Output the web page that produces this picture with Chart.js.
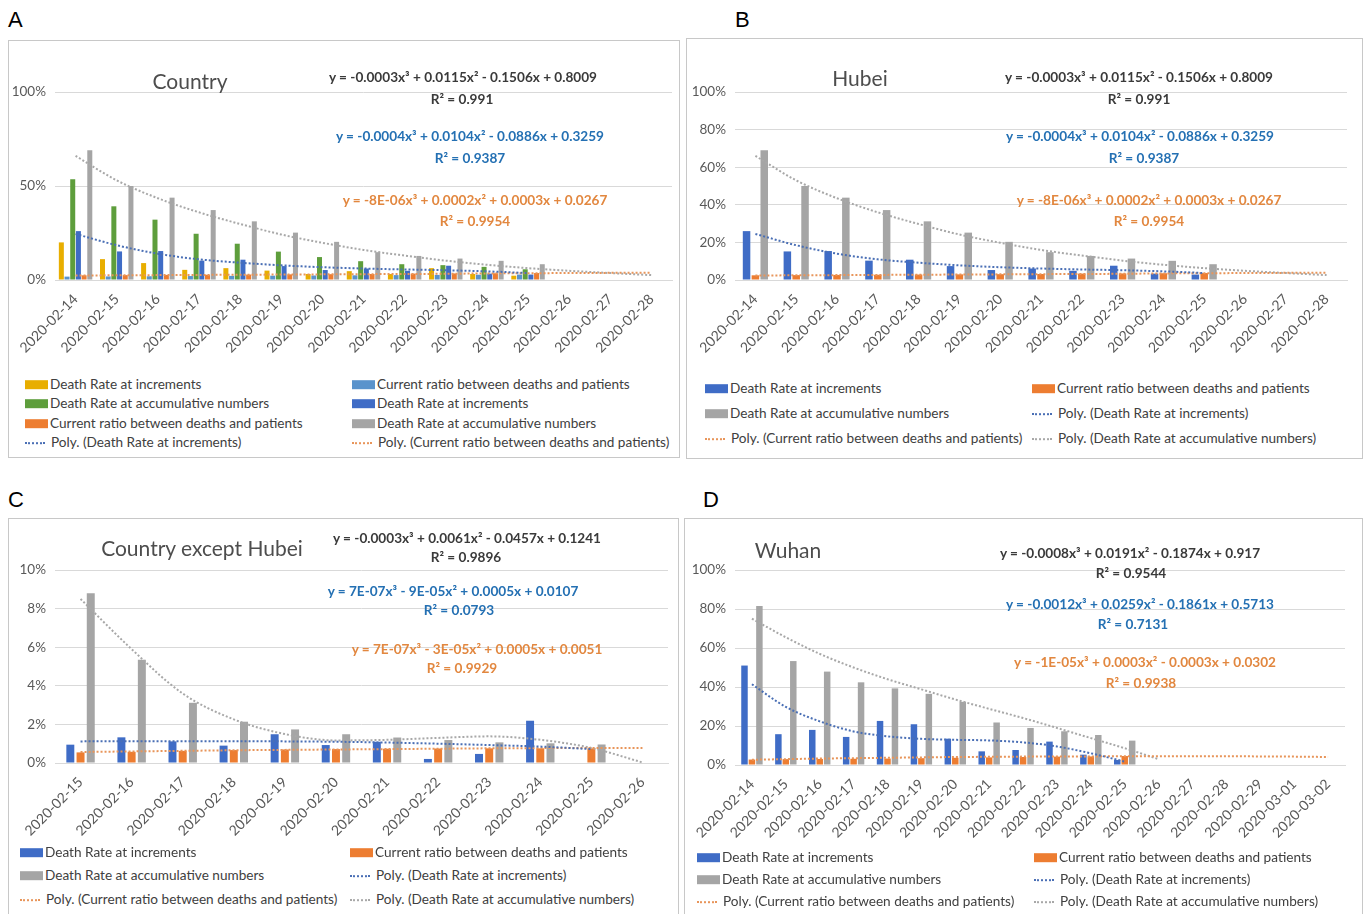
<!DOCTYPE html>
<html><head><meta charset="utf-8">
<script src="https://cdn.jsdelivr.net/npm/chart.js@4.4.0/dist/chart.umd.min.js"></script>
<style>
body{margin:0;background:#fff;font-family:Lato,sans-serif;}
#wrap{position:relative;width:1367px;height:914px;overflow:hidden;background:#fff}
.letter{position:absolute;font-family:'Liberation Sans',Arial,sans-serif;font-size:22px;color:#000;line-height:1}
.panel{position:absolute;border:1px solid #c8c8c8;box-sizing:border-box;background:#fff}
.panel canvas{position:absolute;left:0;top:0}
.title{position:absolute;font-size:21px;color:#4d4d4d;transform:translate(-50%,-50%);white-space:nowrap;line-height:1}
.eq{position:absolute;font-size:13.6px;font-weight:700;transform:translate(-50%,-50%);white-space:nowrap;line-height:1}
.lg{position:absolute;font-size:13.6px;color:#404040;white-space:nowrap;transform:translateY(-50%);display:flex;align-items:center;line-height:1}
.sw{display:inline-block;width:23px;height:9px;margin-right:2px}
.dl{display:inline-block;width:20px;height:0;border-top:2px dotted;margin-right:6px}
</style>
</head><body>
<div id="wrap"></div>
<script>
// ---------- categories ----------
const datesAB = ['2020-02-14','2020-02-15','2020-02-16','2020-02-17','2020-02-18','2020-02-19','2020-02-20','2020-02-21','2020-02-22','2020-02-23','2020-02-24','2020-02-25','2020-02-26','2020-02-27','2020-02-28'];
const datesC = ['2020-02-15','2020-02-16','2020-02-17','2020-02-18','2020-02-19','2020-02-20','2020-02-21','2020-02-22','2020-02-23','2020-02-24','2020-02-25','2020-02-26'];
const datesD = ['2020-02-14','2020-02-15','2020-02-16','2020-02-17','2020-02-18','2020-02-19','2020-02-20','2020-02-21','2020-02-22','2020-02-23','2020-02-24','2020-02-25','2020-02-26','2020-02-27','2020-02-28','2020-02-29','2020-03-01','2020-03-02'];

// ---------- tick values (percent) ----------
const yTicksA = [0, 50, 100];
const yTicksB = [0, 20, 40, 60, 80, 100];
const yTicksC = [0, 2, 4, 6, 8, 10];
const yTicksD = [0, 20, 40, 60, 80, 100];

// ---------- series (percent) ----------
// Country
const countryInc = [20, 11.1, 9, 5.4, 6.3, 5, 3.2, 4.7, 3.2, 6.3, 3.2, 2.3];
const countryCur = [1.8, 1.9, 2.0, 2.1, 2.2, 2.3, 2.4, 2.5, 2.6, 2.7, 2.8, 2.9];
const countryAcc = [53.6, 39.2, 32.1, 24.6, 19.3, 15.1, 12.2, 10, 8.4, 7.9, 7, 5.7];
// Hubei
const hubeiInc = [26, 15.2, 15.4, 10.3, 10.8, 7.4, 5.3, 6.1, 4.9, 7.6, 3.4, 2.9];
const hubeiCur = [2.5, 2.6, 2.7, 2.8, 2.9, 3.0, 3.1, 3.2, 3.4, 3.5, 3.6, 3.7];
const hubeiAcc = [69, 50, 43.8, 37.2, 31.2, 25.2, 20.3, 14.8, 12.8, 11.4, 10.2, 8.4];
const hubeiIncTrend = [24.5, 18.5, 14, 11, 9.2, 7.8, 6.8, 6.1, 5.6, 5.2, 4.6, 3.7, null, null, null];
const hubeiCurTrend = [2.4, 2.5, 2.6, 2.7, 2.8, 2.9, 3.0, 3.1, 3.2, 3.3, 3.5, 3.6, 3.7, 3.8, 3.9];
const hubeiAccTrend = [66, 53, 43.5, 36, 29.8, 24.2, 19.8, 16, 13, 10.3, 8.1, 6.3, 4.9, 3.7, 2.6];
// Country except Hubei
const exInc = [0.95, 1.33, 1.12, 0.9, 1.49, 0.93, 1.1, 0.21, 0.47, 2.19, null];
const exCur = [0.55, 0.58, 0.63, 0.67, 0.7, 0.72, 0.74, 0.75, 0.76, 0.76, 0.76];
const exAcc = [8.8, 5.35, 3.12, 2.14, 1.74, 1.49, 1.32, 1.19, 1.07, 1.02, 0.96];
const exIncTrend = [1.12, 1.13, 1.13, 1.13, 1.12, 1.1, 1.06, 1.0, 0.93, 0.85, 0.72, null];
const exCurTrend = [0.57, 0.6, 0.63, 0.66, 0.68, 0.7, 0.72, 0.74, 0.76, 0.77, 0.78, 0.78];
const exAccTrend = [8.5, 5.9, 3.6, 2.26, 1.5, 1.17, 1.2, 1.3, 1.38, 1.2, 0.78, 0.03];
// Wuhan
const wuhanInc = [51, 15.8, 18, 14.4, 22.6, 20.9, 13.5, 7, 7.7, 12, 5.3, 2.6];
const wuhanCur = [2.8, 3.0, 3.1, 3.2, 3.3, 3.5, 3.7, 3.9, 4.1, 4.3, 4.4, 4.6];
const wuhanAcc = [81.5, 53.3, 47.9, 42.4, 39.3, 36.5, 32.4, 21.8, 19, 17.3, 15.4, 12.5];
const wuhanIncTrend = [41.4, 29.8, 22.4, 17.2, 14.7, 13.4, 12.9, 12.6, 11.6, 9.5, 6, 1.7, null, null, null, null, null, null];
const wuhanCurTrend = [2.7, 3.0, 3.3, 3.5, 3.7, 3.9, 4.1, 4.2, 4.3, 4.4, 4.4, 4.5, 4.5, 4.5, 4.5, 4.4, 4.3, 4.1];
const wuhanAccTrend = [75, 65.5, 57, 50, 44, 38.8, 33.6, 28.8, 24.1, 19, 13.8, 8.6, 3.0, null, null, null, null, null];

// ---------- labels & styles ----------
const L_INC = 'Death Rate at increments';
const L_CUR = 'Current ratio between deaths and patients';
const L_ACC = 'Death Rate at accumulative numbers';
const C = {gold:'#E8AE00', lblue:'#5A93CC', green:'#5E9E3C', blue:'#3F6CC6', orange:'#ED7D31', gray:'#A5A5A5',
           tBlue:'#4A6FB5', tOrange:'#E8955A', tGray:'#A8A8A8'};
const EQC = {k:'#3a3a3a', b:'#2470B3', o:'#E2873F'};

const wrap = document.getElementById('wrap');
function el(tag, cls, parent, style, html){const e=document.createElement(tag); if(cls)e.className=cls; if(style)e.style.cssText=style; if(html!==undefined)e.innerHTML=html; parent.appendChild(e); return e;}

function bar(label, data, color){return {type:'bar', label, data, backgroundColor:color, order:1};}
function trend(label, data, color, inLegend){return {type:'line', label:'Poly. ('+label+')', data, borderColor:color, borderWidth:2, borderDash:[2,2], pointRadius:0, fill:false, cubicInterpolationMode:'monotone', spanGaps:false, order:0, _legend:inLegend!==false};}

function makePanel(p){
  const panel = el('div','panel',wrap,`left:${p.x}px;top:${p.y}px;width:${p.w}px;height:${p.h}px;`);
  const cv = el('canvas',null,panel);
  cv.width = p.cw; cv.height = p.ch;
  new Chart(cv, {
    type:'bar',
    data:{labels:p.labels, datasets:p.datasets.map(d=>Object.assign({}, d, d.type==='bar'?{categoryPercentage:p.catPct, barPercentage:p.barPct}:{}))},
    options:{
      responsive:false, animation:false, events:[],
      layout:{padding:{top:p.top, right:p.cw-p.right, left:0, bottom:0}},
      plugins:{legend:{display:false}, tooltip:{enabled:false}},
      scales:{
        x:{grid:{display:false}, border:{display:true,color:'#D9D9D9'},
           ticks:{font:{family:'Lato',size:14}, color:'#595959', minRotation:45, maxRotation:45, autoSkip:false, padding:3},
           afterFit:s=>{s.height = p.ch - p.bottom;}},
        y:{min:0, max:p.ticks[p.ticks.length-1], grid:{color:'#D9D9D9', drawTicks:false}, border:{display:false},
           afterBuildTicks:s=>{s.ticks = p.ticks.map(v=>({value:v}));},
           ticks:{callback:v=>v+'%', font:{family:'Lato',size:13.5}, color:'#595959', padding:9},
           afterFit:s=>{s.width = p.left;}}
      }
    }
  });
  el('div','title',panel,`left:${p.title.x}px;top:${p.title.y}px;`,p.title.t);
  p.eqs.forEach(q=>el('div','eq',panel,`left:${q.x}px;top:${q.y}px;color:${EQC[q.c]};`,q.t));
  const items = p.datasets.filter(d=>d.type==='bar' || d._legend);
  items.forEach((d,i)=>{
    const row = Math.floor(i/2), col = i%2;
    const lg = el('div','lg',panel,`left:${col? p.lg.x2 : p.lg.x1}px;top:${p.lg.ys[row]}px;`);
    if(d.type==='bar') el('span','sw',lg,`background:${d.backgroundColor}`);
    else el('span','dl',lg,`border-top-color:${d.borderColor}`);
    el('span',null,lg,null,d.label);
  });
}

function letter(t,x,y){el('div','letter',wrap,`left:${x}px;top:${y}px;`,t);}
letter('A',8,9); letter('B',735,9); letter('C',8,489); letter('D',703,489);

// Panel A
makePanel({x:8,y:40,w:672,h:418,cw:670,ch:330,top:51,bottom:239,left:46,right:663,catPct:0.83,barPct:0.88,
  labels:datesAB, ticks:yTicksA,
  datasets:[bar(L_INC,countryInc,C.gold), bar(L_CUR,countryCur,C.lblue), bar(L_ACC,countryAcc,C.green),
            bar(L_INC,hubeiInc,C.blue), bar(L_CUR,hubeiCur,C.orange), bar(L_ACC,hubeiAcc,C.gray),
            trend(L_INC,hubeiIncTrend,C.tBlue), trend(L_CUR,hubeiCurTrend,C.tOrange), trend(L_ACC,hubeiAccTrend,C.tGray,false)],
  title:{t:'Country',x:181,y:39},
  eqs:[{t:'y = -0.0003x³ + 0.0115x² - 0.1506x + 0.8009',x:454,y:37,c:'k'},{t:'R² = 0.991',x:453,y:59,c:'k'},
       {t:'y = -0.0004x³ + 0.0104x² - 0.0886x + 0.3259',x:461,y:96,c:'b'},{t:'R² = 0.9387',x:461,y:118,c:'b'},
       {t:'y = -8E-06x³ + 0.0002x² + 0.0003x + 0.0267',x:466,y:160,c:'o'},{t:'R² = 0.9954',x:466,y:181,c:'o'}],
  lg:{x1:16,x2:343,ys:[344,363,383,402]}
});

// Panel B
makePanel({x:686,y:38,w:677,h:421,cw:675,ch:330,top:53,bottom:241,left:48,right:660,catPct:0.65,barPct:0.85,
  labels:datesAB, ticks:yTicksB,
  datasets:[bar(L_INC,hubeiInc,C.blue), bar(L_CUR,hubeiCur,C.orange), bar(L_ACC,hubeiAcc,C.gray),
            trend(L_INC,hubeiIncTrend,C.tBlue), trend(L_CUR,hubeiCurTrend,C.tOrange), trend(L_ACC,hubeiAccTrend,C.tGray)],
  title:{t:'Hubei',x:173,y:38},
  eqs:[{t:'y = -0.0003x³ + 0.0115x² - 0.1506x + 0.8009',x:452,y:39,c:'k'},{t:'R² = 0.991',x:452,y:61,c:'k'},
       {t:'y = -0.0004x³ + 0.0104x² - 0.0886x + 0.3259',x:453,y:98,c:'b'},{t:'R² = 0.9387',x:457,y:120,c:'b'},
       {t:'y = -8E-06x³ + 0.0002x² + 0.0003x + 0.0267',x:462,y:162,c:'o'},{t:'R² = 0.9954',x:462,y:183,c:'o'}],
  lg:{x1:18,x2:345,ys:[350,375,400]}
});

// Panel C
makePanel({x:8,y:518,w:671,h:400,cw:669,ch:330,top:51,bottom:244,left:46,right:659,catPct:0.6,barPct:0.78,
  labels:datesC, ticks:yTicksC,
  datasets:[bar(L_INC,exInc,C.blue), bar(L_CUR,exCur,C.orange), bar(L_ACC,exAcc,C.gray),
            trend(L_INC,exIncTrend,C.tBlue), trend(L_CUR,exCurTrend,C.tOrange), trend(L_ACC,exAccTrend,C.tGray)],
  title:{t:'Country except Hubei',x:193,y:28},
  eqs:[{t:'y = -0.0003x³ + 0.0061x² - 0.0457x + 0.1241',x:458,y:20,c:'k'},{t:'R² = 0.9896',x:457,y:39,c:'k'},
       {t:'y = 7E-07x³ - 9E-05x² + 0.0005x + 0.0107',x:444,y:73,c:'b'},{t:'R² = 0.0793',x:450,y:92,c:'b'},
       {t:'y = 7E-07x³ - 3E-05x² + 0.0005x + 0.0051',x:468,y:131,c:'o'},{t:'R² = 0.9929',x:453,y:150,c:'o'}],
  lg:{x1:11,x2:341,ys:[334,357,381]}
});

// Panel D
makePanel({x:684,y:518,w:679,h:400,cw:677,ch:335,top:51,bottom:246,left:50,right:660,catPct:0.66,barPct:0.87,
  labels:datesD, ticks:yTicksD,
  datasets:[bar(L_INC,wuhanInc,C.blue), bar(L_CUR,wuhanCur,C.orange), bar(L_ACC,wuhanAcc,C.gray),
            trend(L_INC,wuhanIncTrend,C.tBlue), trend(L_CUR,wuhanCurTrend,C.tOrange), trend(L_ACC,wuhanAccTrend,C.tGray)],
  title:{t:'Wuhan',x:103,y:30},
  eqs:[{t:'y = -0.0008x³ + 0.0191x² - 0.1874x + 0.917',x:445,y:35,c:'k'},{t:'R² = 0.9544',x:446,y:55,c:'k'},
       {t:'y = -0.0012x³ + 0.0259x² - 0.1861x + 0.5713',x:455,y:86,c:'b'},{t:'R² = 0.7131',x:448,y:106,c:'b'},
       {t:'y = -1E-05x³ + 0.0003x² - 0.0003x + 0.0302',x:460,y:144,c:'o'},{t:'R² = 0.9938',x:456,y:165,c:'o'}],
  lg:{x1:12,x2:349,ys:[339,361,383]}
});
</script>
</body></html>
